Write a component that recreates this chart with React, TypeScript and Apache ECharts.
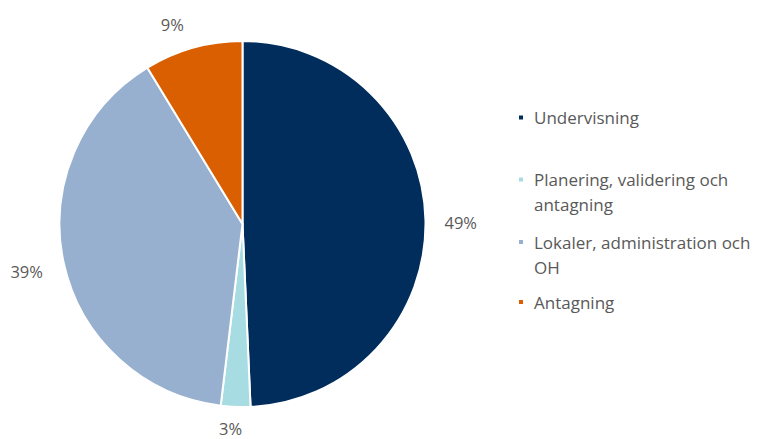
import React, { useEffect, useRef } from "react";
import * as echarts from "echarts";

const categories = [
  "Undervisning",
  "Planering, validering och antagning",
  "Lokaler, administration och OH",
  "Antagning",
];
const values = [49.3, 2.6, 39.4, 8.7];
const colors = ["#002D5C", "#A6DCE2", "#98B0D0", "#DA5F00"];
const legendLines = [
  ["Undervisning"],
  ["Planering, validering och", "antagning"],
  ["Lokaler, administration och", "OH"],
  ["Antagning"],
];
const legendTops = [105, 142, 204.5, 289.5];
const labelShift = [
  [2, 3],
  [12, 10],
  [-4, 6],
  [-1, -12],
];

const FONT = "'Open Sans', 'Noto Sans', sans-serif";
const TEXT = "#595959";

export default function App() {
  const ref = useRef<HTMLDivElement>(null);
  useEffect(() => {
    if (!ref.current) return;
    const chart = echarts.init(ref.current, undefined, { renderer: "svg" });
    const legends = categories.map((name, i) => ({
      data: [name],
      orient: "vertical",
      left: 517,
      top: legendTops[i],
      padding: 0,
      icon: "rect",
      itemWidth: 6,
      itemHeight: 6,
      selectedMode: false,
      formatter: () =>
        legendLines[i].length > 1 ? "\n" + legendLines[i].join("\n") : legendLines[i][0],
      textStyle: {
        fontFamily: FONT,
        fontSize: 17,
        color: TEXT,
        lineHeight: 25,
        padding: [0, 0, 0, 5],
      },
    }));
    chart.setOption({
      animation: false,
      color: colors,
      legend: legends,
      series: [
        {
          type: "pie",
          center: [242.5, 224],
          radius: 183,
          startAngle: 90,
          clockwise: true,
          avoidLabelOverlap: false,
          itemStyle: { borderColor: "#ffffff", borderWidth: 2 },
          label: {
            show: true,
            position: "outside",
            formatter: (p: any) => Math.round(p.value) + "%",
            fontFamily: FONT,
            fontSize: 16.5,
            color: TEXT,
          },
          labelLine: { show: false, length: 12, length2: 0 },
          labelLayout: (p: any) => ({
            dx: labelShift[p.dataIndex][0],
            dy: labelShift[p.dataIndex][1],
          }),
          emphasis: { disabled: true },
          data: categories.map((name, i) => ({ name, value: values[i] })),
        },
      ],
    });
    return () => chart.dispose();
  }, []);
  return (
    <div
      ref={ref}
      style={{ position: "fixed", left: 0, top: 0, width: 757, height: 439, background: "#fff" }}
    />
  );
}
